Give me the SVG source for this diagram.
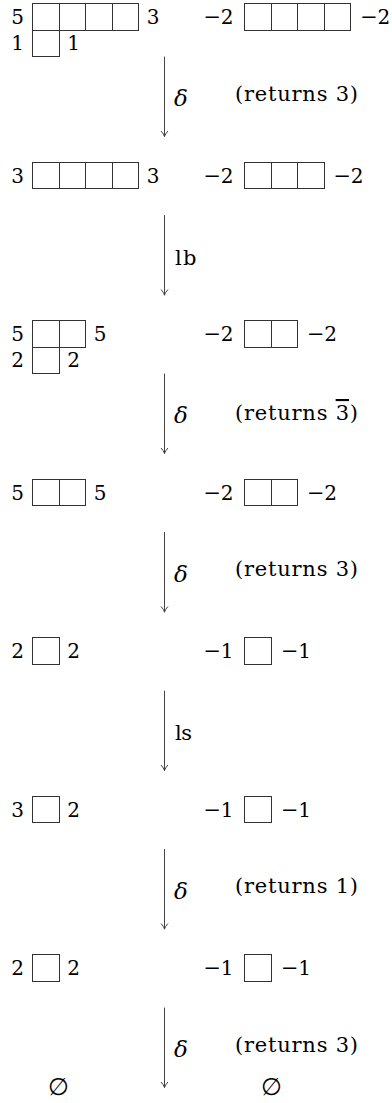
<svg xmlns="http://www.w3.org/2000/svg" width="392" height="1103" viewBox="0 0 392 1103" font-family="'DejaVu Serif', 'Liberation Serif', serif">
<style>
text{font-family:'DejaVu Serif','Liberation Serif',serif;fill:#000}
.d{font-size:20px;text-anchor:middle}
.n{font-size:20px}
.m{font-size:21px}
.r{font-size:21px}
.g{font-size:23px;font-style:italic;text-anchor:middle}
.o{font-size:21px}
.e{font-size:24px;text-anchor:middle}
.ov{text-decoration:overline}
.c{fill:none;stroke:#333;stroke-width:1;shape-rendering:crispEdges}
.a{fill:none;stroke:#444;stroke-width:1;stroke-linecap:round}
</style>
<defs>
<rect id="cell" class="c" width="26.5" height="26.5"/>
<marker id="ah" viewBox="-6 -4 7 8" refX="0" refY="0" markerWidth="7" markerHeight="8" markerUnits="userSpaceOnUse" orient="auto" overflow="visible">
<path d="M-5.2,-3.2 Q-2.5,-0.7 0,0 Q-2.5,0.7 -5.2,3.2" fill="none" stroke="#444" stroke-width="1" stroke-linecap="round"/>
</marker>
</defs>

<g id="s1-left">
<use href="#cell" x="32.5" y="3.5"/><use href="#cell" x="59" y="3.5"/><use href="#cell" x="85.5" y="3.5"/><use href="#cell" x="112" y="3.5"/>
<use href="#cell" x="32.5" y="30"/>
<text class="d" x="17.5" y="24">5</text><text class="d" x="153" y="24">3</text>
<text class="d" x="17.5" y="49.5">1</text><text class="d" x="73.5" y="49.5">1</text>
</g>
<g id="s1-right">
<use href="#cell" x="244.5" y="3.5"/><use href="#cell" x="271" y="3.5"/><use href="#cell" x="297.5" y="3.5"/><use href="#cell" x="324" y="3.5"/>
<text class="n" x="203.5" y="24"><tspan class="m">−</tspan><tspan x="220.8">2</tspan></text>
<text class="n" x="360.2" y="24"><tspan class="m">−</tspan><tspan x="377.5">2</tspan></text>
</g>

<g id="s2-left">
<use href="#cell" x="32.5" y="162"/><use href="#cell" x="59" y="162"/><use href="#cell" x="85.5" y="162"/><use href="#cell" x="112" y="162"/>
<text class="d" x="17.5" y="182.5">3</text><text class="d" x="153" y="182.5">3</text>
</g>
<g id="s2-right">
<use href="#cell" x="244.5" y="162"/><use href="#cell" x="271" y="162"/><use href="#cell" x="297.5" y="162"/>
<text class="n" x="203.5" y="182.5"><tspan class="m">−</tspan><tspan x="220.8">2</tspan></text>
<text class="n" x="333.5" y="182.5"><tspan class="m">−</tspan><tspan x="350.8">2</tspan></text>
</g>

<g id="s3-left">
<use href="#cell" x="32.5" y="320.5"/><use href="#cell" x="59" y="320.5"/>
<use href="#cell" x="32.5" y="347"/>
<text class="d" x="17.5" y="341">5</text><text class="d" x="100" y="341">5</text>
<text class="d" x="17.5" y="366.5">2</text><text class="d" x="73.5" y="366.5">2</text>
</g>
<g id="s3-right">
<use href="#cell" x="244.5" y="320.5"/><use href="#cell" x="271" y="320.5"/>
<text class="n" x="203.5" y="341"><tspan class="m">−</tspan><tspan x="220.8">2</tspan></text>
<text class="n" x="307" y="341"><tspan class="m">−</tspan><tspan x="324.3">2</tspan></text>
</g>

<g id="s4-left">
<use href="#cell" x="32.5" y="479"/><use href="#cell" x="59" y="479"/>
<text class="d" x="17.5" y="499.5">5</text><text class="d" x="100" y="499.5">5</text>
</g>
<g id="s4-right">
<use href="#cell" x="244.5" y="479"/><use href="#cell" x="271" y="479"/>
<text class="n" x="203.5" y="499.5"><tspan class="m">−</tspan><tspan x="220.8">2</tspan></text>
<text class="n" x="307" y="499.5"><tspan class="m">−</tspan><tspan x="324.3">2</tspan></text>
</g>

<g id="s5-left">
<use href="#cell" x="32.5" y="637.5"/>
<text class="d" x="17.5" y="658">2</text><text class="d" x="73.5" y="658">2</text>
</g>
<g id="s5-right">
<use href="#cell" x="244.5" y="637.5"/>
<text class="n" x="203.5" y="658"><tspan class="m">−</tspan><tspan x="220.8">1</tspan></text>
<text class="n" x="281" y="658"><tspan class="m">−</tspan><tspan x="298.3">1</tspan></text>
</g>

<g id="s6-left">
<use href="#cell" x="32.5" y="796"/>
<text class="d" x="17.5" y="816.5">3</text><text class="d" x="73.5" y="816.5">2</text>
</g>
<g id="s6-right">
<use href="#cell" x="244.5" y="796"/>
<text class="n" x="203.5" y="816.5"><tspan class="m">−</tspan><tspan x="220.8">1</tspan></text>
<text class="n" x="281" y="816.5"><tspan class="m">−</tspan><tspan x="298.3">1</tspan></text>
</g>

<g id="s7-left">
<use href="#cell" x="32.5" y="954.5"/>
<text class="d" x="17.5" y="975">2</text><text class="d" x="73.5" y="975">2</text>
</g>
<g id="s7-right">
<use href="#cell" x="244.5" y="954.5"/>
<text class="n" x="203.5" y="975"><tspan class="m">−</tspan><tspan x="220.8">1</tspan></text>
<text class="n" x="281" y="975"><tspan class="m">−</tspan><tspan x="298.3">1</tspan></text>
</g>

<g id="s8-left"><text class="e" x="58.3" y="1095">∅</text></g>
<g id="s8-right"><text class="e" x="271.5" y="1095">∅</text></g>

<g id="connectors">
<path class="a" d="M164.5,57 V136.5" marker-end="url(#ah)"/>
<path class="a" d="M164.5,215.5 V295" marker-end="url(#ah)"/>
<path class="a" d="M164.5,374 V453.5" marker-end="url(#ah)"/>
<path class="a" d="M164.5,532.5 V612" marker-end="url(#ah)"/>
<path class="a" d="M164.5,691 V770.5" marker-end="url(#ah)"/>
<path class="a" d="M164.5,849.5 V929" marker-end="url(#ah)"/>
<path class="a" d="M164.5,1008 V1087.5" marker-end="url(#ah)"/>
</g>

<g id="connector-labels">
<text class="g" x="181" y="106">δ</text>
<text class="r" x="235" y="100.5" textLength="123" lengthAdjust="spacing">(returns 3)</text>
<text class="o" x="175" y="264.5" textLength="21.5" lengthAdjust="spacing">lb</text>
<text class="g" x="181" y="423">δ</text>
<text class="r" x="235" y="420" textLength="123" lengthAdjust="spacing">(returns <tspan class="ov">3</tspan>)</text>
<text class="g" x="181" y="581.5">δ</text>
<text class="r" x="235" y="576" textLength="123" lengthAdjust="spacing">(returns 3)</text>
<text class="o" x="175" y="740" textLength="17" lengthAdjust="spacing">ls</text>
<text class="g" x="181" y="898.5">δ</text>
<text class="r" x="235" y="893" textLength="123" lengthAdjust="spacing">(returns 1)</text>
<text class="g" x="181" y="1057">δ</text>
<text class="r" x="235" y="1051.5" textLength="123" lengthAdjust="spacing">(returns 3)</text>
</g>
</svg>
